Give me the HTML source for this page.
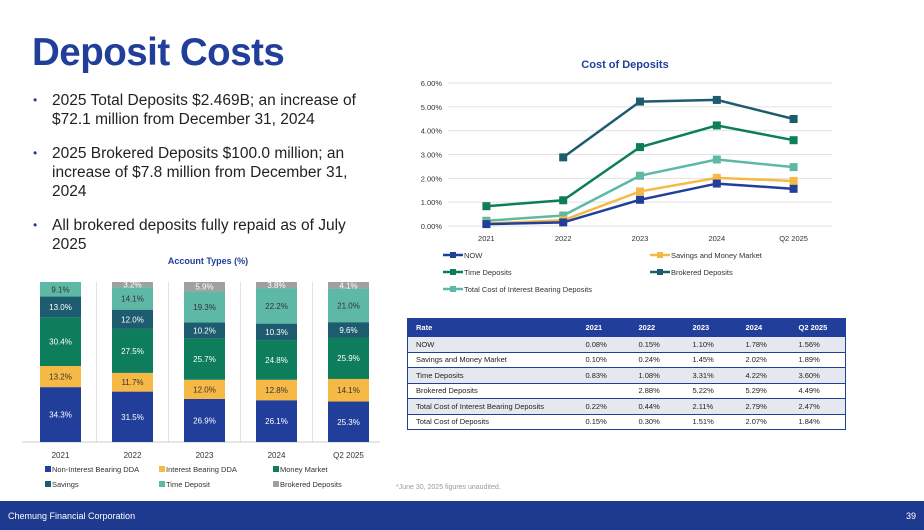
<!DOCTYPE html>
<html><head><meta charset="utf-8">
<style>
body{margin:0;width:924px;height:530px;background:#fff;font-family:"Liberation Sans",sans-serif;position:relative;overflow:hidden}
.title{position:absolute;left:32px;top:31px;font-size:38.5px;font-weight:bold;color:#213f9a;letter-spacing:-0.5px}
.bullets{position:absolute;left:33px;top:91px;width:340px;font-size:15.5px;color:#222;line-height:19px}
.b{position:relative;padding-left:19px;margin-bottom:15px}
.b:before{content:"•";position:absolute;left:0;color:#213f9a;font-size:12px}
.footer{position:absolute;left:0;top:501px;width:924px;height:29px;background:#1e3a8f;color:#fff;font-size:9px}
table{position:absolute;left:407px;top:318px;width:439px;border-collapse:collapse;font-size:7.5px;color:#222;border:1.5px solid #213f9a;table-layout:fixed}
td{height:14.5px;padding:0 0 0 8px;border-bottom:1px solid #213f9a;white-space:nowrap}
tr.h td{background:#213f9a;color:#fff;font-weight:bold;height:17px}
tr.g td{background:#e6e8f0}
</style></head><body>
<div class="title">Deposit Costs</div>
<div class="bullets">
<div class="b">2025 Total Deposits $2.469B; an increase of $72.1 million from December 31, 2024</div>
<div class="b">2025 Brokered Deposits $100.0 million; an increase of $7.8 million from December 31, 2024</div>
<div class="b">All brokered deposits fully repaid as of July 2025</div>
</div>

<svg id="bar" width="380" height="250" style="position:absolute;left:0;top:250px"></svg>
<svg id="line" width="480" height="250" style="position:absolute;left:400px;top:50px"></svg>

<table>
<colgroup><col style="width:170px"><col style="width:53px"><col style="width:54px"><col style="width:53px"><col style="width:53px"><col></colgroup>
<tr class="h"><td>Rate</td><td>2021</td><td>2022</td><td>2023</td><td>2024</td><td>Q2 2025</td></tr>
<tr class="g"><td>NOW</td><td>0.08%</td><td>0.15%</td><td>1.10%</td><td>1.78%</td><td>1.56%</td></tr>
<tr><td>Savings and Money Market</td><td>0.10%</td><td>0.24%</td><td>1.45%</td><td>2.02%</td><td>1.89%</td></tr>
<tr class="g"><td>Time Deposits</td><td>0.83%</td><td>1.08%</td><td>3.31%</td><td>4.22%</td><td>3.60%</td></tr>
<tr><td>Brokered Deposits</td><td></td><td>2.88%</td><td>5.22%</td><td>5.29%</td><td>4.49%</td></tr>
<tr class="g"><td>Total Cost of Interest Bearing Deposits</td><td>0.22%</td><td>0.44%</td><td>2.11%</td><td>2.79%</td><td>2.47%</td></tr>
<tr><td>Total Cost of Deposits</td><td>0.15%</td><td>0.30%</td><td>1.51%</td><td>2.07%</td><td>1.84%</td></tr>
</table>
<div style="position:absolute;left:396px;top:484px;font-size:7px;color:#999">*June 30, 2025 figures unaudited.</div>
<div class="footer">
<span style="position:absolute;left:8px;top:10px">Chemung Financial Corporation</span>
<span style="position:absolute;right:8px;top:10px">39</span>
</div>

<script>
const NS="http://www.w3.org/2000/svg";
function mk(p,t,a,txt){const e=document.createElementNS(NS,t);for(const k in a)e.setAttribute(k,a[k]);if(txt!==undefined)e.textContent=txt;p.appendChild(e);return e;}

// ---- Bar chart data ----
const barCats=["2021","2022","2023","2024","Q2 2025"];
const barSeriesNames=["Non-Interest Bearing DDA","Interest Bearing DDA","Money Market","Savings","Time Deposit","Brokered Deposits"];
const nonIntDDA=[34.3,31.5,26.9,26.1,25.3];
const intDDA=[13.2,11.7,12.0,12.8,14.1];
const moneyMkt=[30.4,27.5,25.7,24.8,25.9];
const savingsPct=[13.0,12.0,10.2,10.3,9.6];
const timeDep=[9.1,14.1,19.3,22.2,21.0];
const brokeredPct=[0,3.2,5.9,3.8,4.1];
const barColors=["#213f9a","#f6b946","#0d7d5c","#1d5b6f","#5db8a6","#a0a0a0"];

// ---- Line chart data ----
const lineCats=["2021","2022","2023","2024","Q2 2025"];
const nowRate=[0.08,0.15,1.10,1.78,1.56];
const savMMRate=[0.10,0.24,1.45,2.02,1.89];
const timeRate=[0.83,1.08,3.31,4.22,3.60];
const brokRate=[null,2.88,5.22,5.29,4.49];
const totalIBRate=[0.22,0.44,2.11,2.79,2.47];
const yTicks=[0,1,2,3,4,5,6];

// Bar chart
(function(){
const s=document.getElementById("bar");
const top=32,bottom=192,bw=41,x0=40,step=72;
const yS=v=>(bottom-top)*v/100;
const tt=mk(s,"text",{x:208,y:14,"text-anchor":"middle","font-size":"9","font-weight":"bold",fill:"#213f9a"},"Account Types (%)");


for(let i=1;i<5;i++){const l=mk(s,"line",{x1:x0+i*step-15.5,x2:x0+i*step-15.5,y1:top,y2:bottom,stroke:"#e4e4e4"});}
mk(s,"line",{x1:22,x2:380,y1:bottom,y2:bottom,stroke:"#ccc"});
const series=[nonIntDDA,intDDA,moneyMkt,savingsPct,timeDep,brokeredPct];
barCats.forEach((c,i)=>{
  let y=bottom;const x=x0+i*step;
  series.forEach((arr,k)=>{
    const v=arr[i];if(!v)return;const h=yS(v);y-=h;
    const r=mk(s,"rect",{x:x,y:y,width:bw,height:h,fill:barColors[k]});
    
    
    const t=mk(s,"text",{x:x+bw/2,y:y+h/2+3,"text-anchor":"middle","font-size":"8",fill:(k==1||k==4)?"#333":"#fff"},v.toFixed(1)+"%");
    
    
  });
  const t=mk(s,"text",{x:x+bw/2,y:208,"text-anchor":"middle","font-size":"8",fill:"#333"},c);
  
  
});
const lx=[45,159,273],ly=[222,237];
barSeriesNames.forEach((n,k)=>{
  const x=lx[k%3],y=ly[Math.floor(k/3)];
  const g=mk(s,"g",{});
  
  
  mk(g,"rect",{x:x,y:y-6,width:6,height:6,fill:barColors[k]});
  mk(g,"text",{x:x+7,y:y,"font-size":"7.5",fill:"#333"},n);
});
})();

// Line chart
(function(){
const s=document.getElementById("line");
const left=48,right=432,y0=176,y6=33;
const xS=i=>left+(right-left)/lineCats.length*(i+0.5);
const yS=v=>y0-(y0-y6)*v/6;
const t0=mk(s,"text",{x:225,y:18,"text-anchor":"middle","font-size":"11","font-weight":"bold",fill:"#213f9a"},"Cost of Deposits");


yTicks.forEach(v=>{
  mk(s,"line",{x1:left,x2:right,y1:yS(v),y2:yS(v),stroke:"#e2e2e2"});
  const t=mk(s,"text",{x:42,y:yS(v)+3,"text-anchor":"end","font-size":"7.5",fill:"#333"},v.toFixed(2)+"%");
  
  
});
lineCats.forEach((c,i)=>{
  const t=mk(s,"text",{x:xS(i),y:191,"text-anchor":"middle","font-size":"7.5",fill:"#333"},c);
  
  
});
const ser=[["NOW",nowRate,"#213f9a"],["Savings and Money Market",savMMRate,"#f6b946"],["Time Deposits",timeRate,"#0d7d5c"],["Brokered Deposits",brokRate,"#1d5b6f"],["Total Cost of Interest Bearing Deposits",totalIBRate,"#5db8a6"]];
const order=[3,2,4,1,0];
order.forEach(k=>{
  const [n,arr,col]=ser[k];
  let d="";arr.forEach((v,i)=>{if(v==null)return;d+=(d?"L":"M")+xS(i)+","+yS(v);});
  const p=mk(s,"path",{d:d,fill:"none",stroke:col,"stroke-width":"2.5"});
  
  
  arr.forEach((v,i)=>{if(v==null)return;
    const r=mk(s,"rect",{x:xS(i)-4,y:yS(v)-4,width:8,height:8,fill:col});
    
    
  });
});
const lp=[[43,205],[250,205],[43,222],[250,222],[43,239]];
ser.forEach((sr,k)=>{
  const [x,y]=lp[k];
  const g=mk(s,"g",{});
  
  
  mk(g,"line",{x1:x,x2:x+20,y1:y,y2:y,stroke:sr[2],"stroke-width":"2.5"});
  mk(g,"rect",{x:x+7,y:y-3,width:6,height:6,fill:sr[2]});
  mk(g,"text",{x:x+21,y:y+3,"font-size":"7.5",fill:"#333"},sr[0]);
});
})();
</script>
</body></html>
